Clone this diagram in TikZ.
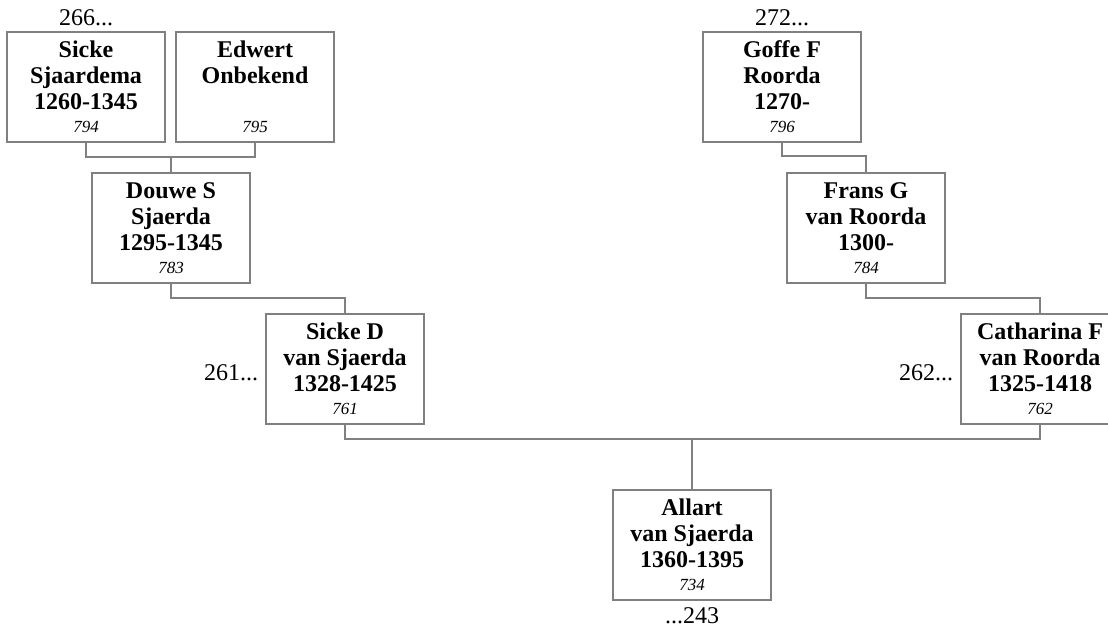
\documentclass[tikz,border=0pt]{standalone}
\usepackage{fontspec}
\setmainfont{Liberation Serif}
\usetikzlibrary{positioning}
\definecolor{boxgray}{RGB}{128,128,128}
\newcommand{\famnr}[1]{\\[-3pt]{\fontsize{17}{20}\selectfont\mdseries\itshape #1}}

\begin{document}
\begin{tikzpicture}[x=1pt, y=-1pt,
    person/.style={draw=boxgray, line width=1.2pt, fill=white, minimum width=158pt, minimum height=110pt, inner sep=0pt, align=center, font=\fontsize{24}{26}\selectfont\bfseries},
    link/.style={draw=boxgray, line width=1.2pt},
    more/.style={inner sep=1pt, font=\fontsize{24}{26}\selectfont}
]
\useasboundingbox (0,0) rectangle (1108,628);

% Sjaerda side
\node[person] (sicke) at (86,87) {Sicke\\Sjaardema\\1260-1345\famnr{794}};
\node[person] (edwert) at (255,87) {Edwert\\Onbekend\\~\famnr{795}};
\node[person] (douwe) at (171,228) {Douwe S\\Sjaerda\\1295-1345\famnr{783}};
\node[person] (sickeD) at (345,369) {Sicke D\\van Sjaerda\\1328-1425\famnr{761}};

% Roorda side
\node[person] (goffe) at (782,87) {Goffe F\\Roorda\\1270-\famnr{796}};
\node[person] (frans) at (866,228) {Frans G\\van Roorda\\1300-\famnr{784}};
\node[person] (catharina) at (1040,369) {Catharina F\\van Roorda\\1325-1418\famnr{762}};

% child
\node[person] (allart) at (692,545) {Allart\\van Sjaerda\\1360-1395\famnr{734}};

% continuation marks
\node[more, above=4pt of sicke] (sicke-up) {266...};
\node[more, above=4pt of goffe] (goffe-up) {272...};
\node[more, left=6pt of sickeD, yshift=-4pt] (sickeD-left) {261...};
\node[more, left=6pt of catharina, yshift=-4pt] (catharina-left) {262...};
\node[more, below=6pt of allart] (allart-down) {...243};

% junctions
\coordinate (j1) at (171,157);
\coordinate (j2) at (345,298);
\coordinate (j3) at (866,156);
\coordinate (j4) at (1040,298);
\coordinate (j5) at (692,439);

\draw[link] (sicke.south) |- (j1) -| (edwert.south);
\draw[link] (j1) -- (douwe.north);
\draw[link] (douwe.south) |- (j2) -- (sickeD.north);
\draw[link] (goffe.south) |- (j3) -- (frans.north);
\draw[link] (frans.south) |- (j4) -- (catharina.north);
\draw[link] (sickeD.south) |- (j5) -| (catharina.south);
\draw[link] (j5) -- (allart.north);
\end{tikzpicture}
\end{document}
